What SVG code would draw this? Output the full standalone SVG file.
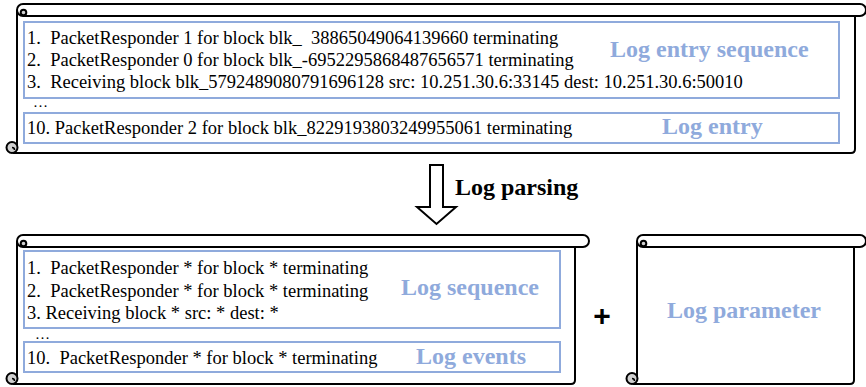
<svg xmlns="http://www.w3.org/2000/svg" width="866" height="387" viewBox="0 0 866 387">
<style>
.scroll{fill:#fff;stroke:#000;stroke-width:2;stroke-linejoin:round}
.curl{fill:#d0d0d0;stroke:#000;stroke-width:2}
.box{fill:none;stroke:#8FAADC;stroke-width:2}
.t{font-family:"Liberation Serif","Times New Roman",serif;font-size:18.5px;fill:#000;white-space:pre}
.dots{font-family:"Liberation Serif","Times New Roman",serif;font-size:15px;fill:#000}
.lbl{font-family:"Liberation Serif","Times New Roman",serif;font-size:24px;font-weight:bold;fill:#8FAADC}
.blk{font-family:"Liberation Serif","Times New Roman",serif;font-size:24px;font-weight:bold;fill:#000}
</style>
<rect width="866" height="387" fill="#fff"/>

<g id="scroll-entries">
  <path class="scroll" d="M17 10 V147 M13 153 H851 Q855 153 855 149 V16"/>
  <path class="scroll" d="M23 4 H860 A6 6 0 0 1 860 16 H23 A6 6 0 0 1 23 4 Z"/>
  <circle class="curl" cx="23.5" cy="12.5" r="2.8"/>
  <circle class="curl" cx="12" cy="147.5" r="5.5"/>
  <path d="M12 147.5 A2.5 2.5 0 0 1 14.5 150" fill="none" stroke="#000" stroke-width="1.5"/>
  <rect class="box" x="24" y="22" width="815" height="76"/>
  <rect class="box" x="24" y="113" width="815" height="30"/>
  <text class="t" x="27" y="44">1.  PacketResponder 1 for block blk_  38865049064139660 terminating</text>
  <text class="t" x="27" y="66">2.  PacketResponder 0 for block blk_-6952295868487656571 terminating</text>
  <text class="t" x="27" y="88">3.  Receiving block blk_5792489080791696128 src: 10.251.30.6:33145 dest: 10.251.30.6:50010</text>
  <text class="dots" x="33" y="107">…</text>
  <text class="t" x="27" y="134">10. PacketResponder 2 for block blk_8229193803249955061 terminating</text>
  <text class="lbl" x="610" y="57">Log entry sequence</text>
  <text class="lbl" x="662" y="134">Log entry</text>
</g>

<g id="parsing-arrow">
  <polygon points="430,165 443,165 443,207 456,207 436.5,224 417,207 430,207" fill="#fff" stroke="#000" stroke-width="2" stroke-linejoin="miter"/>
  <text class="blk" x="455" y="195">Log parsing</text>
</g>

<g id="scroll-sequence">
  <path class="scroll" d="M17 241 V378 M13 384 H571 Q575 384 575 380 V247"/>
  <path class="scroll" d="M23 235 H583 A6 6 0 0 1 583 247 H23 A6 6 0 0 1 23 235 Z"/>
  <circle class="curl" cx="23.5" cy="243.5" r="2.8"/>
  <circle class="curl" cx="12" cy="378.5" r="5.5"/>
  <path d="M12 378.5 A2.5 2.5 0 0 1 14.5 381" fill="none" stroke="#000" stroke-width="1.5"/>
  <rect class="box" x="24" y="251" width="536" height="77"/>
  <rect class="box" x="24" y="342" width="536" height="30"/>
  <text class="t" x="27" y="274">1.  PacketResponder * for block * terminating</text>
  <text class="t" x="27" y="297">2.  PacketResponder * for block * terminating</text>
  <text class="t" x="27" y="319">3. Receiving block * src: * dest: *</text>
  <text class="dots" x="35" y="339">…</text>
  <text class="t" x="27" y="364">10.  PacketResponder * for block * terminating</text>
  <text class="lbl" x="401" y="295">Log sequence</text>
  <text class="lbl" x="416" y="364">Log events</text>
</g>

<g id="plus">
  <text x="602" y="326" text-anchor="middle" font-family="Liberation Sans, Arial, sans-serif" font-size="30" font-weight="bold" fill="#000">+</text>
</g>

<g id="scroll-parameter">
  <path class="scroll" d="M637 241 V378 M633 384 H850 Q854 384 854 380 V247"/>
  <path class="scroll" d="M643 235 H860 A6 6 0 0 1 860 247 H643 A6 6 0 0 1 643 235 Z"/>
  <circle class="curl" cx="643.5" cy="243.5" r="2.8"/>
  <circle class="curl" cx="632" cy="378.5" r="5.5"/>
  <path d="M632 378.5 A2.5 2.5 0 0 1 634.5 381" fill="none" stroke="#000" stroke-width="1.5"/>
  <text class="lbl" x="667" y="318">Log parameter</text>
</g>
</svg>
